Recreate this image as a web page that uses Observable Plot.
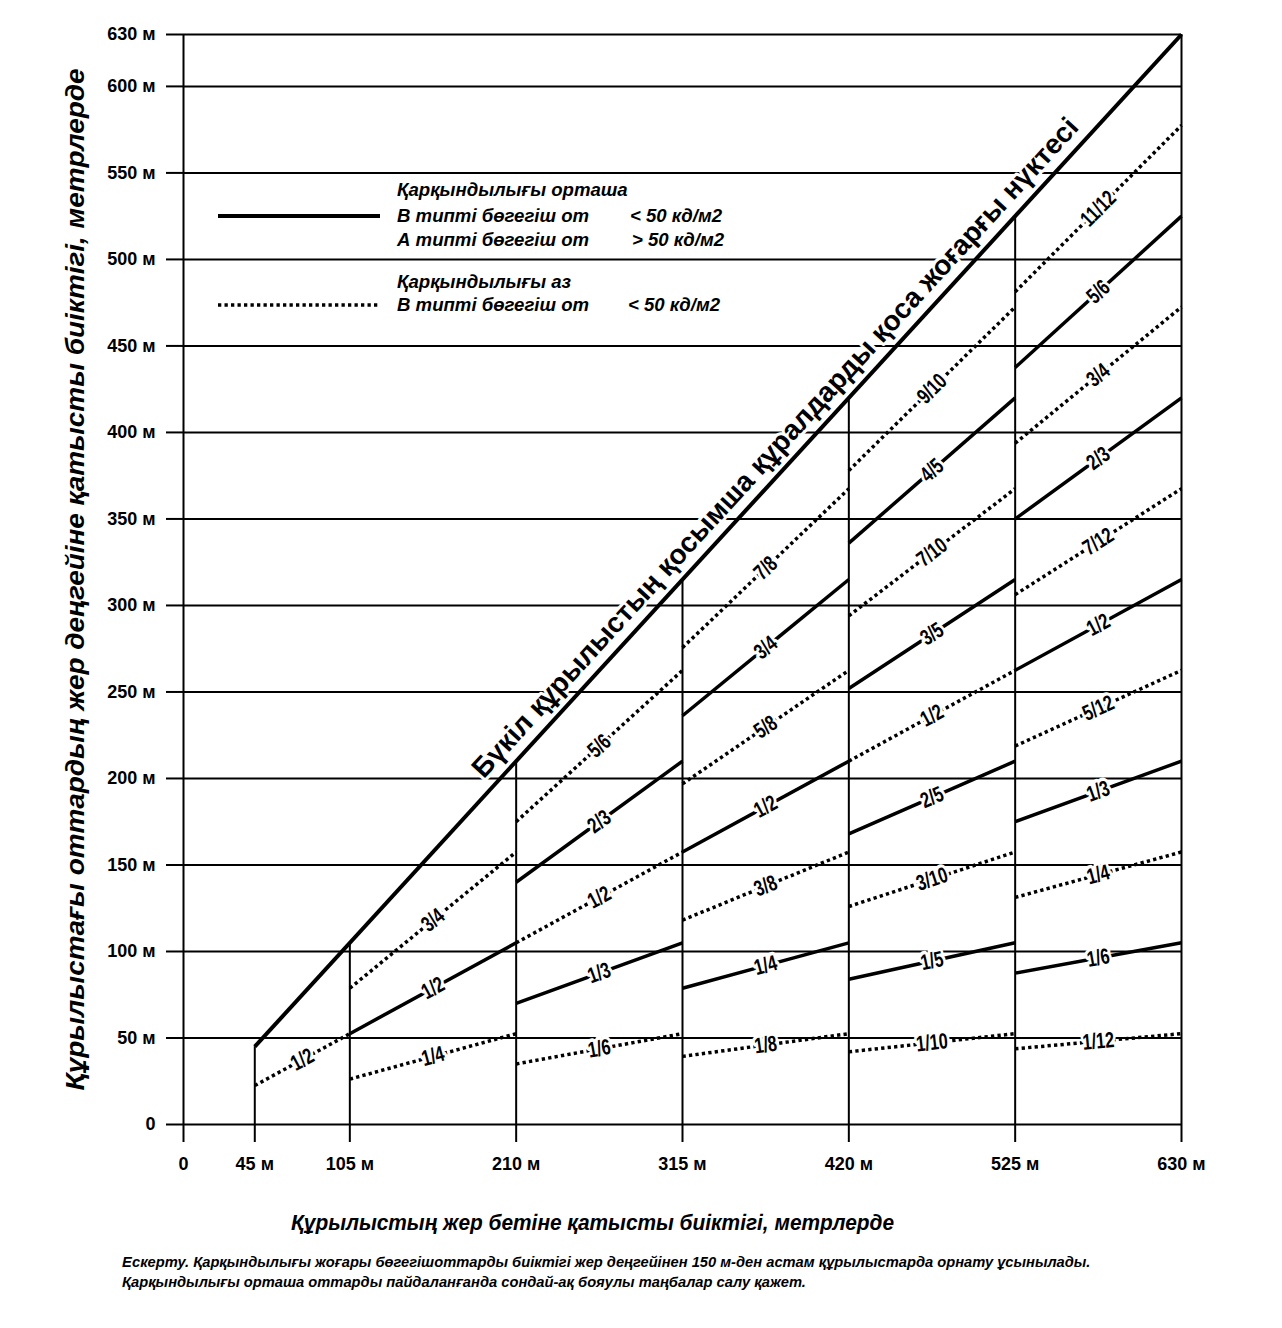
<!DOCTYPE html>
<html><head><meta charset="utf-8">
<script src="https://cdn.jsdelivr.net/npm/d3@7"></script>
<script src="https://cdn.jsdelivr.net/npm/@observablehq/plot@0.6"></script>
<style>
body{margin:0;background:#fff;font-family:"Liberation Sans",Arial,sans-serif;color:#000;}
#wrap{position:relative;width:1282px;}
.lg{position:absolute;font:italic bold 18.6px "Liberation Sans",Arial,sans-serif;line-height:24px;white-space:nowrap;}
#note{margin:18px 0 0 122px;font:italic bold 14.7px "Liberation Sans",Arial,sans-serif;line-height:20px;}
</style></head><body>
<div id="wrap">
  <div id="chart"></div>
  <svg style="position:absolute;left:0;top:0" width="1282" height="330">
    <line x1="218" x2="380" y1="216" y2="216" stroke="#000" stroke-width="4"/>
    <line x1="218" x2="380" y1="305" y2="305" stroke="#000" stroke-width="3.5" stroke-dasharray="3.3 3.2"/>
  </svg>
  <div class="lg" style="left:397px;top:178px">Қарқындылығы орташа</div>
  <div class="lg" style="left:397px;top:204px">В типті бөгегіш от</div>
  <div class="lg" style="left:630px;top:204px">&lt; 50 кд/м2</div>
  <div class="lg" style="left:397px;top:228px">А типті бөгегіш от</div>
  <div class="lg" style="left:632px;top:228px">&gt; 50 кд/м2</div>
  <div class="lg" style="left:397px;top:270px">Қарқындылығы аз</div>
  <div class="lg" style="left:397px;top:293px">В типті бөгегіш от</div>
  <div class="lg" style="left:628px;top:293px">&lt; 50 кд/м2</div>
</div>
<div id="note">Ескерту. Қарқындылығы жоғары бөгегішоттарды биіктігі жер деңгейінен 150 м-ден астам құрылыстарда орнату ұсынылады.<br>Қарқындылығы орташа оттарды пайдаланғанда сондай-ақ бояулы таңбалар салу қажет.</div>
<script>
const xTicks = [0, 45, 105, 210, 315, 420, 525, 630];
const yTicks = [0, 50, 100, 150, 200, 250, 300, 350, 400, 450, 500, 550, 600, 630];
const segmentBounds = [[45, 105], [105, 210], [210, 315], [315, 420], [420, 525], [525, 630]];
const solidBySegment = [
  [],
  ["1/2"],
  ["2/3", "1/3"],
  ["3/4", "1/2", "1/4"],
  ["4/5", "3/5", "2/5", "1/5"],
  ["5/6", "2/3", "1/2", "1/3", "1/6"]
];
const dottedBySegment = [
  ["1/2"],
  ["3/4", "1/4"],
  ["5/6", "1/2", "1/6"],
  ["7/8", "5/8", "3/8", "1/8"],
  ["9/10", "7/10", "1/2", "3/10", "1/10"],
  ["11/12", "3/4", "7/12", "5/12", "1/4", "1/12"]
];
const topLine = {from: 45, to: 630, ratio: 1};
const topLabel = "Бүкіл құрылыстың қосымша құралдарды қоса жоғарғы нүктесі";
const xTitle = "Құрылыстың жер бетіне қатысты биіктігі, метрлерде";
const yTitle = "Құрылыстағы оттардың жер деңгейіне қатысты биіктігі, метрлерде";

const W = 1282, H = 1234, ML = 183, MR = 101, MT = 34, MB = 110;
const kx = (W - ML - MR) / 630, ky = (H - MT - MB) / 630;
const frac = s => { const [a, b] = s.split("/").map(Number); return a / b; };
const angleOf = v => -Math.atan(v * ky / kx) * 180 / Math.PI;

function rowsFor(lists, style) {
  const out = [];
  lists.forEach((labels, i) => {
    const [x1, x2] = segmentBounds[i];
    labels.forEach(label => {
      const v = frac(label);
      out.push({label, style, x1, x2, y1: v * x1, y2: v * x2, xm: (x1 + x2) / 2, ym: v * (x1 + x2) / 2, angle: angleOf(v)});
    });
  });
  return out;
}
const solidRows = rowsFor(solidBySegment, "solid");
const dottedRows = rowsFor(dottedBySegment, "dotted");
const allRows = solidRows.concat(dottedRows);
const fmt = d => d === 0 ? "0" : `${d} м`;
const FONT = "'Liberation Sans', Arial, sans-serif";

const chart = Plot.plot({
  width: W, height: H,
  marginLeft: ML, marginRight: MR, marginTop: MT, marginBottom: MB,
  x: {domain: [0, 630]},
  y: {domain: [0, 630]},
  style: {fontFamily: FONT, background: "#fff", color: "#000"},
  marks: [
    Plot.ruleY(yTicks, {x1: 0, x2: 630, stroke: "#000", strokeWidth: 2}),
    Plot.ruleX(xTicks, {y1: 0, y2: d => d === 0 ? 630 : d, stroke: "#000", strokeWidth: 2}),
    Plot.axisX({ticks: xTicks, tickFormat: fmt, tickSize: 18, tickPadding: 15, fontSize: 18, fontWeight: "bold", strokeWidth: 2, label: null}),
    Plot.axisY({ticks: yTicks, tickFormat: fmt, tickSize: 17, tickPadding: 11, fontSize: 18, fontWeight: "bold", strokeWidth: 2, label: null}),
    Plot.text([topLabel], {x: topLine.to * 0.607, y: topLine.to * 0.607, text: d => d, rotate: angleOf(topLine.ratio), dx: -14, dy: -15,
      fontSize: 28, fontWeight: "bold", fontFamily: FONT, fill: "#000", stroke: "#fff", strokeWidth: 6, lineAnchor: "middle"}),
    Plot.link([topLine], {x1: d => d.from, y1: d => d.from * d.ratio, x2: d => d.to, y2: d => d.to * d.ratio, stroke: "#000", strokeWidth: 4}),
    Plot.link(solidRows, {x1: "x1", y1: "y1", x2: "x2", y2: "y2", stroke: "#000", strokeWidth: 3.5}),
    Plot.link(dottedRows, {x1: "x1", y1: "y1", x2: "x2", y2: "y2", stroke: "#000", strokeWidth: 3.5, strokeDasharray: "3.3 3.2"}),
    Plot.text(allRows, {x: "xm", y: "ym", text: "label", rotate: "angle", fontSize: 22, fontWeight: "bold", fontFamily: FONT,
      fill: "#000", stroke: "#fff", strokeWidth: 7, lineAnchor: "middle"}),
    Plot.text([yTitle], {frameAnchor: "left", textAnchor: "middle", text: d => d, rotate: -90, dx: -108, fontSize: 26, fontWeight: "bold", fontStyle: "italic", fontFamily: FONT, fill: "#000", lineAnchor: "middle"}),
    Plot.text([xTitle], {frameAnchor: "bottom", text: d => d, dx: -90, dy: 98, fontSize: 22, fontWeight: "bold", fontStyle: "italic", fontFamily: FONT, fill: "#000", lineAnchor: "middle"})
  ]
});
document.getElementById("chart").appendChild(chart);

// condensed lettering, as in the reference (no narrow font installed)
const fractionSet = new Set(allRows.map(d => d.label));
chart.querySelectorAll("text").forEach(el => {
  const t = el.textContent;
  let target = null;
  if (fractionSet.has(t)) target = el.getComputedTextLength() * 0.74;
  else if (t === yTitle) target = 1022;
  else if (t === xTitle) target = 603;
  if (target != null) {
    el.setAttribute("textLength", target);
    el.setAttribute("lengthAdjust", "spacingAndGlyphs");
  }
});
</script>
</body></html>
